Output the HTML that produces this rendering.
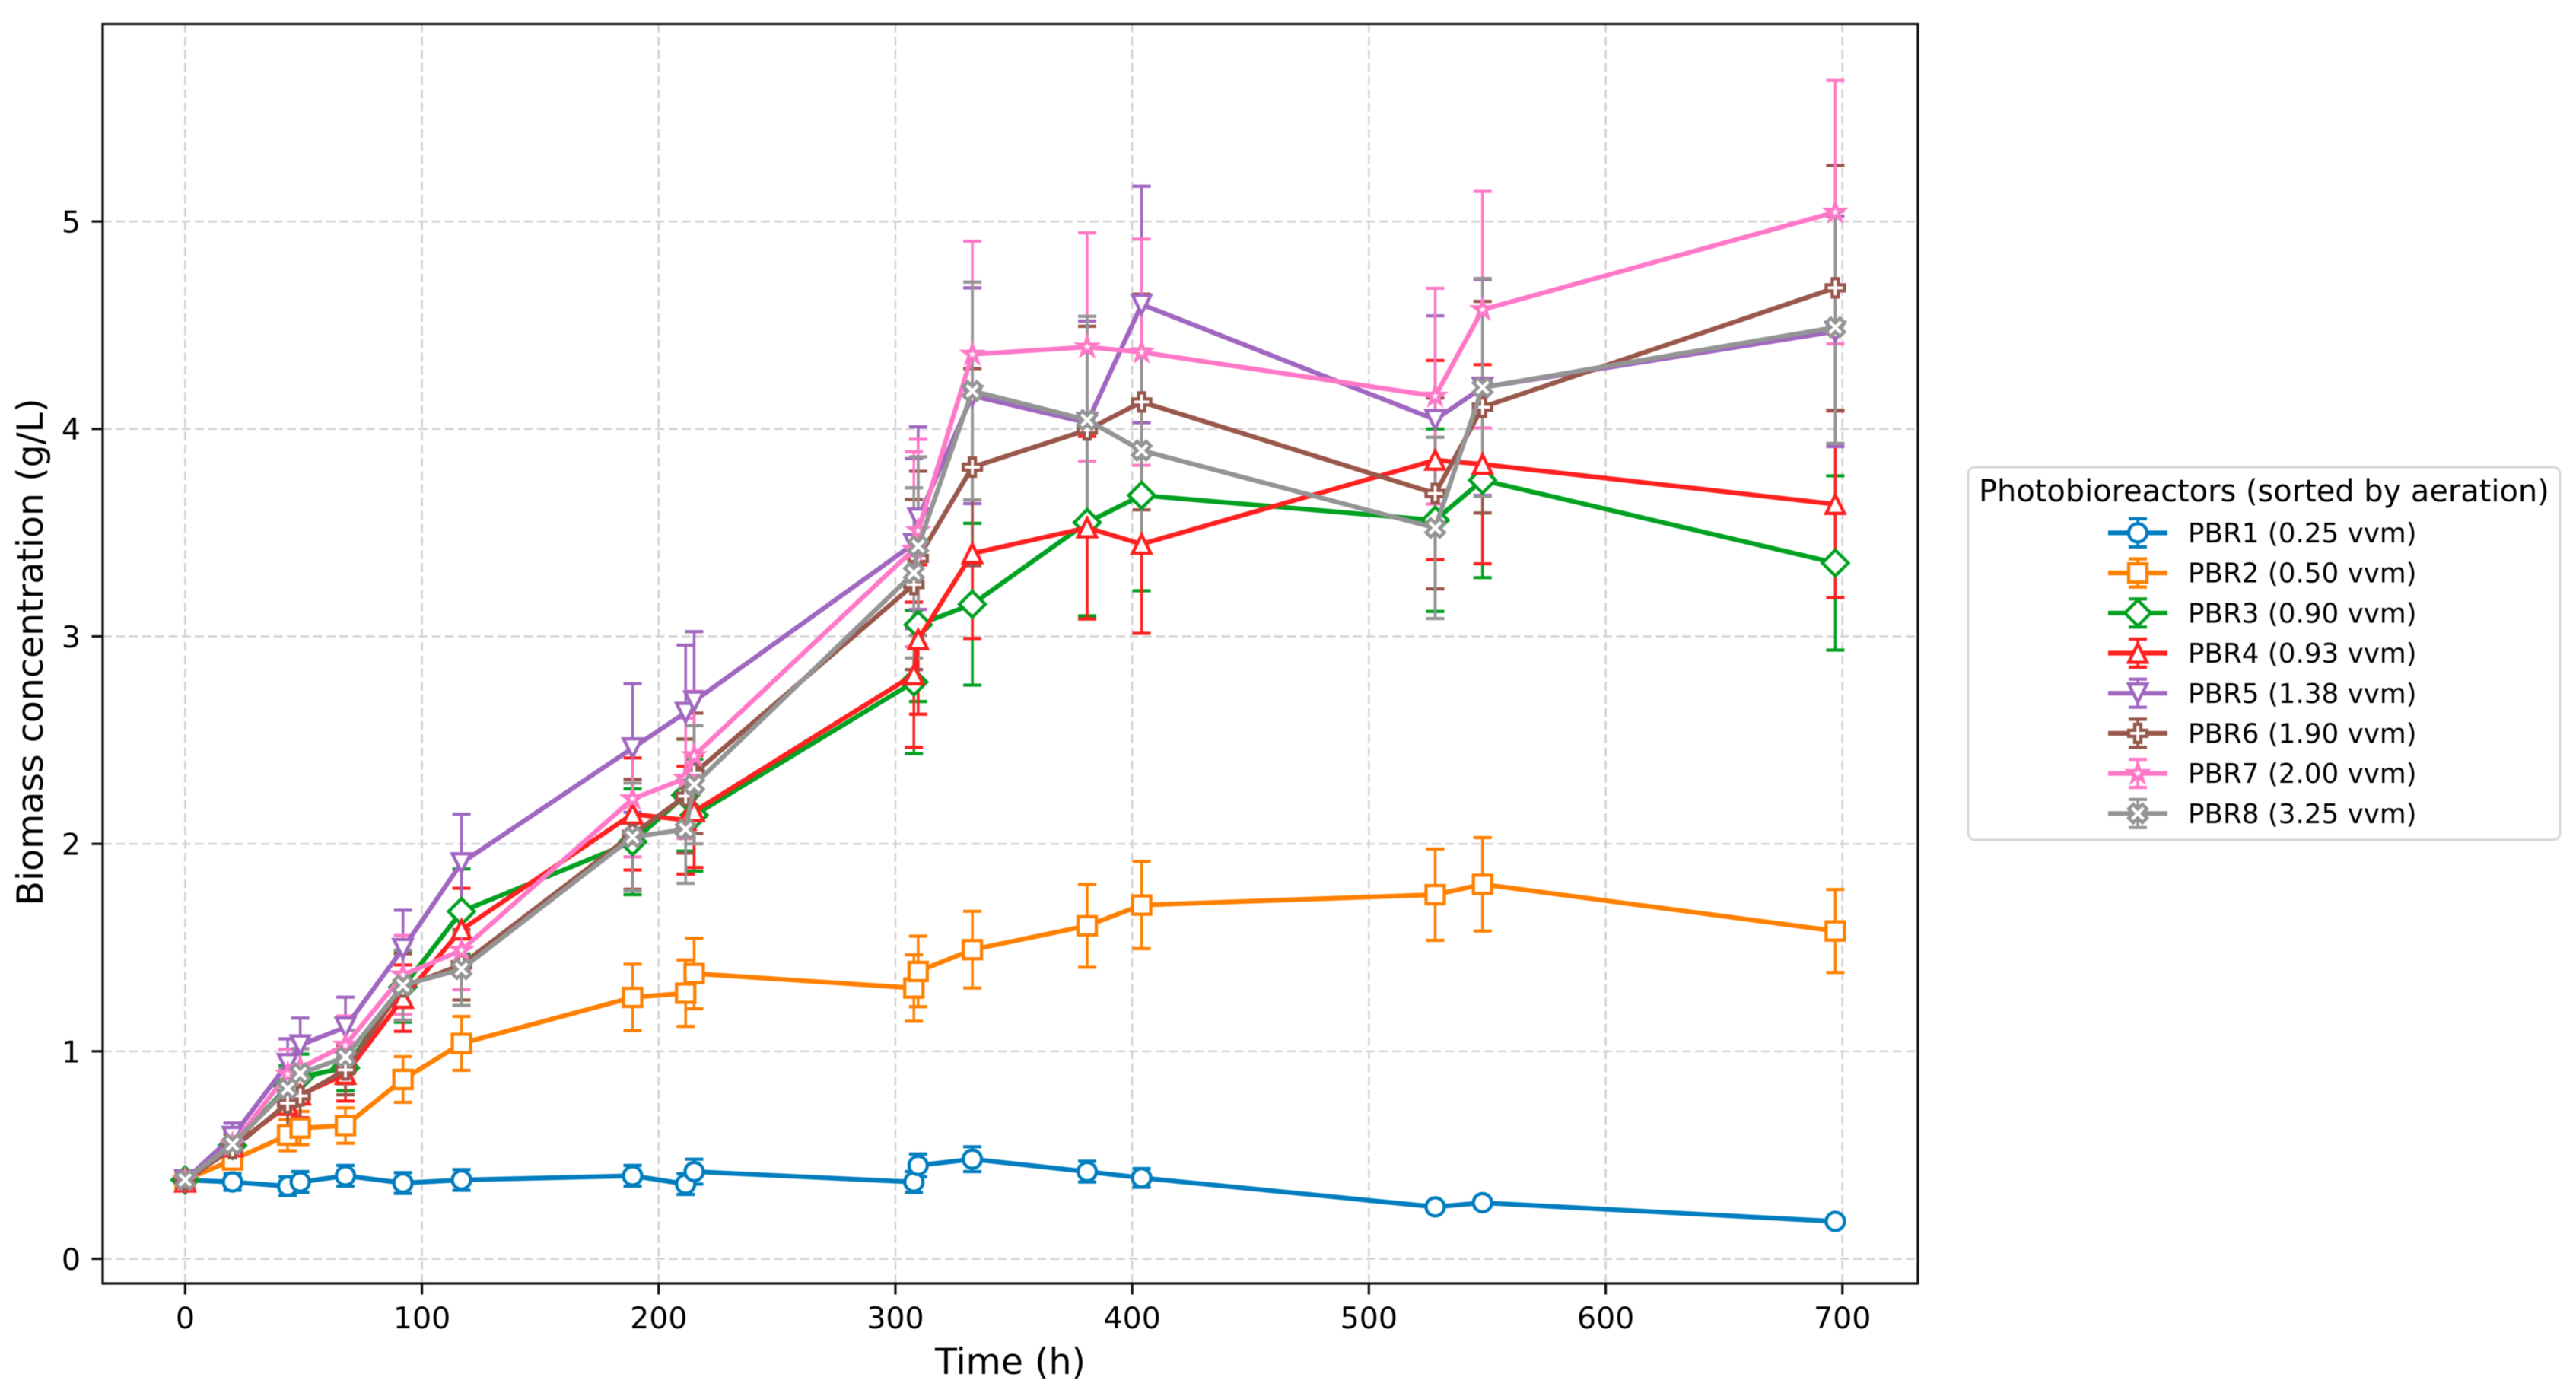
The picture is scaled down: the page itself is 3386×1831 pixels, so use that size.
<!DOCTYPE html>
<html lang="en">
<head>
<meta charset="utf-8">
<title>Biomass concentration over time</title>
<style>
html,body{margin:0;padding:0;background:#fff;}
svg{display:block;filter:blur(0.6px);}
text{font-family:"DejaVu Sans","Liberation Sans",sans-serif;fill:#000;}
</style>
</head>
<body>
<svg id="chart" xmlns="http://www.w3.org/2000/svg" width="3386" height="1831" viewBox="0 0 3386 1831">
  <rect x="0" y="0" width="3386" height="1831" fill="#fff"/>
  <g id="grid"></g>
  <g id="errorbars"></g>
  <g id="lines"></g>
  <rect x="135" y="31.5" width="2386" height="1655.5" fill="none" stroke="#111" stroke-width="3.2"/>
  <g id="ticks"></g>
  <text x="1328" y="1806" font-size="47.4" text-anchor="middle">Time (h)</text>
  <text transform="translate(56 857) rotate(-90)" font-size="47.4" text-anchor="middle">Biomass concentration (g/L)</text>
  <g>
    <rect x="2587" y="614" width="778" height="490" rx="9" ry="9" fill="#fff" stroke="#d9d9d9" stroke-width="3.2"/>
    <text x="2601" y="659" font-size="39.9">Photobioreactors (sorted by aeration)</text>
    <g id="legend-handles"></g>
    <text x="2876" y="713" font-size="35.7">PBR1 (0.25 vvm)</text>
    <text x="2876" y="765.7" font-size="35.7">PBR2 (0.50 vvm)</text>
    <text x="2876" y="818.4" font-size="35.7">PBR3 (0.90 vvm)</text>
    <text x="2876" y="871.1" font-size="35.7">PBR4 (0.93 vvm)</text>
    <text x="2876" y="923.8" font-size="35.7">PBR5 (1.38 vvm)</text>
    <text x="2876" y="976.5" font-size="35.7">PBR6 (1.90 vvm)</text>
    <text x="2876" y="1029.2" font-size="35.7">PBR7 (2.00 vvm)</text>
    <text x="2876" y="1081.9" font-size="35.7">PBR8 (3.25 vvm)</text>
  </g>
</svg>
<script>
// ---- chart data ----
const timeHours = [0,20,43.3,48.6,67.7,92,116.7,189,211.4,215,307.8,309.6,332.5,381,404,528,548,697];
const xTickLabels = [0,100,200,300,400,500,600,700];
const yTickLabels = [0,1,2,3,4,5];

const pbr1Values = [0.38,0.37,0.35,0.37,0.40,0.365,0.38,0.40,0.36,0.42,0.37,0.45,0.48,0.42,0.39,0.25,0.27,0.18];
const pbr1Errors = [0.03,0.04,0.045,0.05,0.05,0.05,0.05,0.05,0.05,0.06,0.05,0.055,0.06,0.05,0.045,0.02,0.02,0.02];
const pbr2Values = [0.38,0.476,0.596,0.63,0.642,0.864,1.038,1.26,1.28,1.375,1.305,1.385,1.49,1.605,1.705,1.755,1.805,1.58];
const pbr2Errors = [0.03,0.04,0.075,0.08,0.085,0.11,0.13,0.16,0.16,0.17,0.16,0.17,0.185,0.2,0.21,0.22,0.225,0.2];
const pbr3Values = [0.38,0.546,0.83,0.876,0.92,1.31,1.674,2.01,2.235,2.138,2.78,3.056,3.155,3.549,3.68,3.56,3.753,3.354];
const pbr3Errors = [0.03,0.07,0.1,0.11,0.11,0.17,0.205,0.255,0.27,0.27,0.345,0.37,0.39,0.45,0.46,0.44,0.47,0.42];
const pbr4Values = [0.37,0.54,0.74,0.79,0.89,1.256,1.586,2.144,2.114,2.156,2.815,2.985,3.4,3.524,3.445,3.85,3.83,3.637];
const pbr4Errors = [0.03,0.07,0.1,0.11,0.13,0.16,0.2,0.27,0.26,0.27,0.35,0.36,0.41,0.44,0.43,0.48,0.48,0.45];
const pbr5Values = [0.38,0.589,0.94,1.03,1.116,1.495,1.908,2.462,2.633,2.688,3.447,3.57,4.16,4.03,4.6,4.045,4.2,4.47];
const pbr5Errors = [0.03,0.065,0.12,0.13,0.145,0.185,0.235,0.31,0.325,0.335,0.41,0.44,0.52,0.49,0.57,0.5,0.52,0.555];
const pbr6Values = [0.38,0.53,0.75,0.785,0.91,1.31,1.417,2.046,2.23,2.34,3.25,3.376,3.816,3.995,4.13,3.689,4.105,4.68];
const pbr6Errors = [0.03,0.07,0.11,0.11,0.12,0.16,0.17,0.265,0.275,0.29,0.41,0.42,0.475,0.5,0.52,0.46,0.51,0.59];
const pbr7Values = [0.38,0.55,0.89,0.92,1.03,1.368,1.487,2.217,2.316,2.425,3.42,3.51,4.36,4.395,4.37,4.158,4.575,5.045];
const pbr7Errors = [0.03,0.07,0.12,0.13,0.14,0.19,0.19,0.28,0.29,0.31,0.47,0.44,0.545,0.55,0.545,0.52,0.57,0.635];
const pbr8Values = [0.38,0.552,0.82,0.893,0.972,1.318,1.396,2.033,2.07,2.285,3.306,3.435,4.183,4.043,3.896,3.523,4.2,4.49];
const pbr8Errors = [0.03,0.06,0.1,0.12,0.13,0.17,0.175,0.26,0.26,0.285,0.41,0.43,0.525,0.5,0.49,0.437,0.525,0.56];

const seriesNames = ['pbr1','pbr2','pbr3','pbr4','pbr5','pbr6','pbr7','pbr8'];
const seriesValues = [pbr1Values,pbr2Values,pbr3Values,pbr4Values,pbr5Values,pbr6Values,pbr7Values,pbr8Values];
const seriesErrors = [pbr1Errors,pbr2Errors,pbr3Errors,pbr4Errors,pbr5Errors,pbr6Errors,pbr7Errors,pbr8Errors];

// ---- styling ----
const seriesColors = ['#007dbf','#ff8000','#00a020','#ff2020','#a066c0','#99574b','#ff78c8','#949494'];
const seriesMarkers = ['circle','square','diamond','triangleUp','triangleDown','plus','star','cross'];

// ---- axes ----
const X_DOMAIN = [-34.83, 731.9];
const X_RANGE = [135, 2521];
const Y_DOMAIN = [-0.119, 5.954];
const Y_RANGE = [1687, 31];
function xScale(v){ return X_RANGE[0] + (v - X_DOMAIN[0]) * (X_RANGE[1] - X_RANGE[0]) / (X_DOMAIN[1] - X_DOMAIN[0]); }
function yScale(v){ return Y_RANGE[0] + (v - Y_DOMAIN[0]) * (Y_RANGE[1] - Y_RANGE[0]) / (Y_DOMAIN[1] - Y_DOMAIN[0]); }

const NS = 'http://www.w3.org/2000/svg';
const MARKER_SIZE = 24;
const MARKER_EDGE = 4.3;
const LINE_WIDTH = 6.2;
const ERR_WIDTH = 3.5;
const CAP_HALF = 12;
const CAP_THICK = 4.2;

function make(tag, attrs, parent){
  const el = document.createElementNS(NS, tag);
  for (const k in attrs) el.setAttribute(k, attrs[k]);
  parent.appendChild(el);
  return el;
}

function markerPoints(kind, s){
  const h = s / 2;
  if (kind === 'square') return [[-h,-h],[h,-h],[h,h],[-h,h]];
  if (kind === 'diamond') { const d = s * Math.SQRT1_2; return [[0,-d],[d,0],[0,d],[-d,0]]; }
  if (kind === 'triangleUp') return [[0,-h],[h,h],[-h,h]];
  if (kind === 'triangleDown') return [[0,h],[h,-h],[-h,-h]];
  if (kind === 'plus') {
    const u = s / 6;
    return [[-u,-3*u],[u,-3*u],[u,-u],[3*u,-u],[3*u,u],[u,u],[u,3*u],[-u,3*u],[-u,u],[-3*u,u],[-3*u,-u],[-u,-u]];
  }
  if (kind === 'cross') {
    const u = s / 4;
    return [[-u,-2*u],[0,-u],[u,-2*u],[2*u,-u],[u,0],[2*u,u],[u,2*u],[0,u],[-u,2*u],[-2*u,u],[-u,0],[-2*u,-u]];
  }
  if (kind === 'star') {
    const pts = [];
    for (let i = 0; i < 10; i++) {
      const r = i % 2 === 0 ? h : h * 0.381966;
      const a = -Math.PI / 2 + i * Math.PI / 5;
      pts.push([r * Math.cos(a), r * Math.sin(a)]);
    }
    return pts;
  }
  return [];
}

function drawMarker(parent, kind, cx, cy, color){
  let el;
  if (kind === 'circle') {
    el = make('circle', {cx: cx, cy: cy, r: MARKER_SIZE / 2, fill: '#fff', stroke: color, 'stroke-width': MARKER_EDGE}, parent);
  } else {
    const pts = markerPoints(kind, MARKER_SIZE).map(p => (cx + p[0]).toFixed(2) + ',' + (cy + p[1]).toFixed(2)).join(' ');
    el = make('polygon', {points: pts, fill: '#fff', stroke: color, 'stroke-width': MARKER_EDGE, 'stroke-linejoin': 'miter', 'stroke-miterlimit': 4}, parent);
  }
  return el;
}

// ---- grid ----
const gridG = document.getElementById('grid');
xTickLabels.forEach(function(t){
  const ln = make('line', {x1: xScale(t), x2: xScale(t), y1: Y_RANGE[1], y2: Y_RANGE[0], stroke: '#d3d3d3', 'stroke-width': 2.6, 'stroke-dasharray': '11.7 5.6'}, gridG);
  
  
});
yTickLabels.forEach(function(t){
  const ln = make('line', {x1: X_RANGE[0], x2: X_RANGE[1], y1: yScale(t), y2: yScale(t), stroke: '#d3d3d3', 'stroke-width': 2.6, 'stroke-dasharray': '11.7 5.6'}, gridG);
  
  
});

// ---- ticks ----
const tickG = document.getElementById('ticks');
xTickLabels.forEach(function(t){
  const px = xScale(t);
  const tick = make('line', {x1: px, x2: px, y1: 1687, y2: 1701.5, stroke: '#111', 'stroke-width': 3.2}, tickG);
  
  
  const label = make('text', {x: px, y: 1746, 'font-size': 39.5, 'text-anchor': 'middle'}, tickG);
  label.textContent = String(t);
  
  
});
yTickLabels.forEach(function(t){
  const py = yScale(t);
  const tick = make('line', {x1: 120.5, x2: 135, y1: py, y2: py, stroke: '#111', 'stroke-width': 3.2}, tickG);
  
  
  const label = make('text', {x: 106, y: py + 14.4, 'font-size': 39.5, 'text-anchor': 'end'}, tickG);
  label.textContent = String(t);
  
  
});

// ---- error bars (beneath every data line, in series order) ----
const errG = document.getElementById('errorbars');
seriesValues.forEach(function(values, si){
  const color = seriesColors[si];
  const group = make('g', {}, errG);
  
  
  values.forEach(function(v, i){
    const px = xScale(timeHours[i]);
    const top = yScale(v + seriesErrors[si][i]);
    const bot = yScale(v - seriesErrors[si][i]);
    const stem = make('line', {x1: px, x2: px, y1: top, y2: bot, stroke: color, 'stroke-width': ERR_WIDTH}, group);
    
    
    const capTop = make('line', {x1: px - CAP_HALF, x2: px + CAP_HALF, y1: top, y2: top, stroke: color, 'stroke-width': CAP_THICK}, group);
    
    
    const capBot = make('line', {x1: px - CAP_HALF, x2: px + CAP_HALF, y1: bot, y2: bot, stroke: color, 'stroke-width': CAP_THICK}, group);
    
    
  });
});

// ---- lines + markers ----
const lineG = document.getElementById('lines');
seriesValues.forEach(function(values, si){
  const color = seriesColors[si];
  const group = make('g', {}, lineG);
  
  
  const pts = values.map(function(v, i){ return xScale(timeHours[i]).toFixed(2) + ',' + yScale(v).toFixed(2); }).join(' ');
  const line = make('polyline', {points: pts, fill: 'none', stroke: color, 'stroke-width': LINE_WIDTH, 'stroke-linejoin': 'round', 'stroke-linecap': 'square'}, group);
  
  
  values.forEach(function(v, i){
    const m = drawMarker(group, seriesMarkers[si], xScale(timeHours[i]), yScale(v), color);
    
    
  });
});

// ---- legend handles ----
const legendG = document.getElementById('legend-handles');
seriesNames.forEach(function(name, si){
  const cy = 700.4 + si * 52.7;
  const color = seriesColors[si];
  const group = make('g', {}, legendG);
  
  
  const stem = make('line', {x1: 2810, x2: 2810, y1: cy - 18.5, y2: cy + 18.5, stroke: color, 'stroke-width': ERR_WIDTH}, group);
  
  
  const capA = make('line', {x1: 2810 - CAP_HALF, x2: 2810 + CAP_HALF, y1: cy - 18.5, y2: cy - 18.5, stroke: color, 'stroke-width': CAP_THICK}, group);
  
  
  const capB = make('line', {x1: 2810 - CAP_HALF, x2: 2810 + CAP_HALF, y1: cy + 18.5, y2: cy + 18.5, stroke: color, 'stroke-width': CAP_THICK}, group);
  
  
  const ln = make('line', {x1: 2771, x2: 2849, y1: cy, y2: cy, stroke: color, 'stroke-width': LINE_WIDTH}, group);
  
  
  const mk = drawMarker(group, seriesMarkers[si], 2810, cy, color);
  
  
});
</script>
</body>
</html>
